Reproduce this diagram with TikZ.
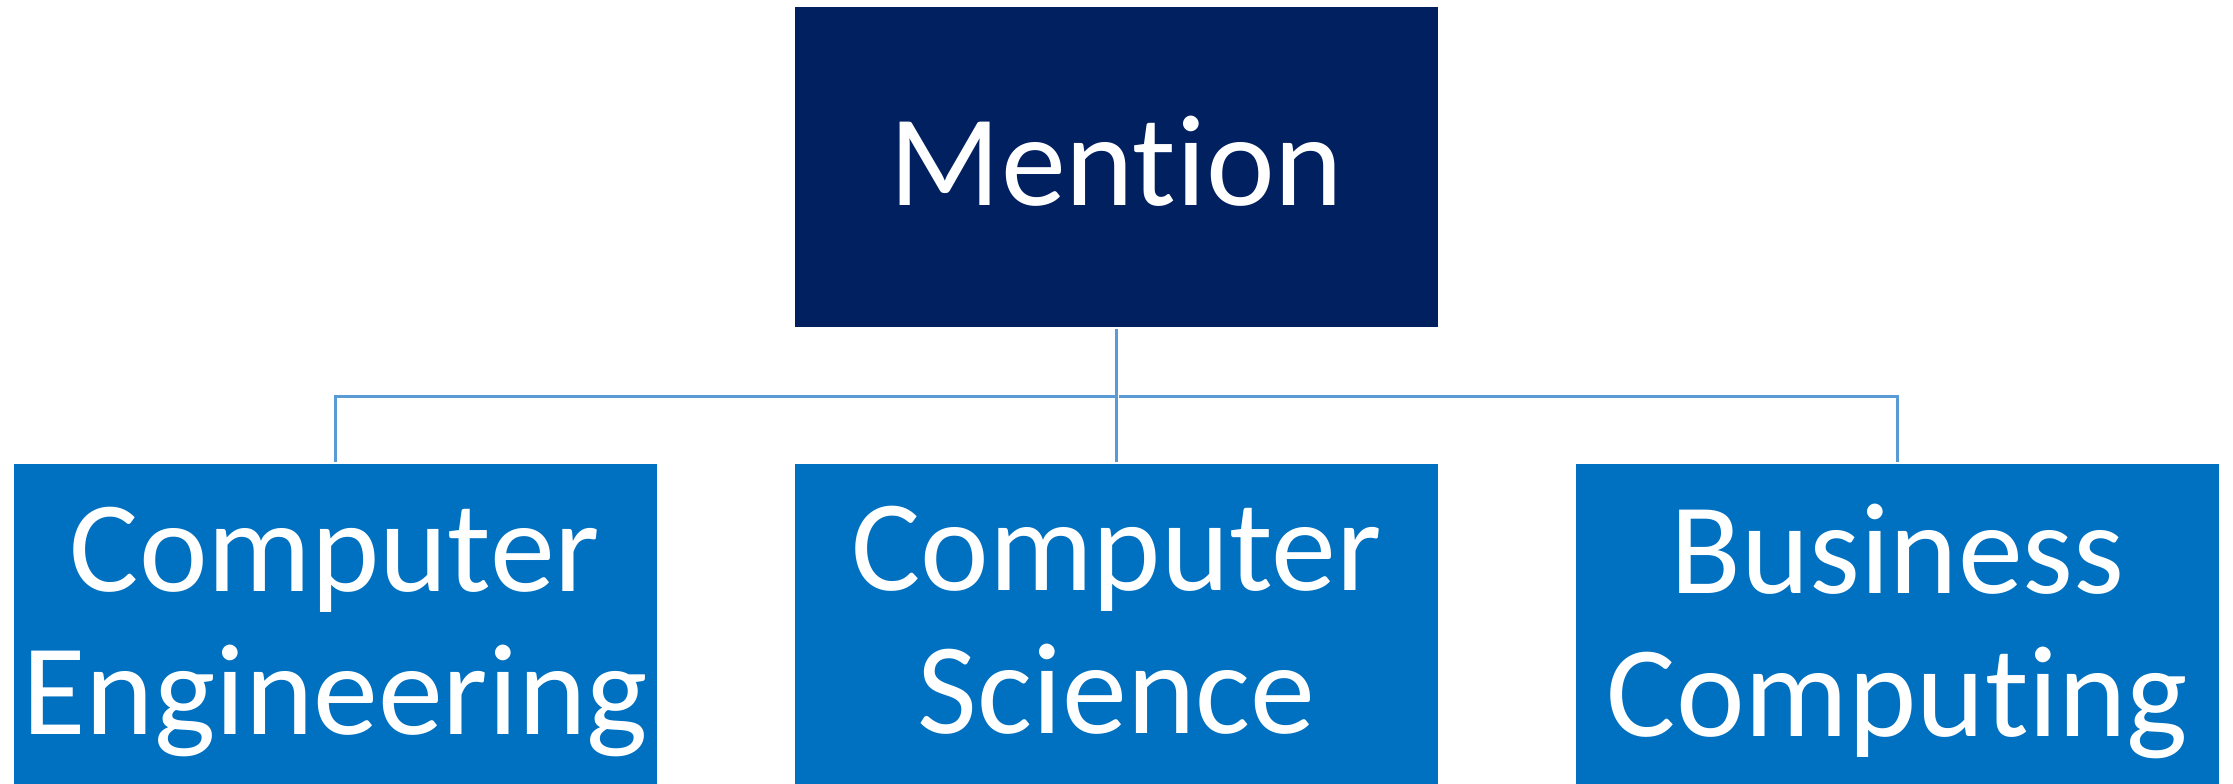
\documentclass[tikz,border=0pt]{standalone}
\usepackage{fontspec}
\setmainfont{Carlito}[Ligatures={NoCommon}]
\usetikzlibrary{calc}
\definecolor{topblue}{RGB}{0,32,96}
\definecolor{leafblue}{RGB}{0,112,192}
\definecolor{linkblue}{RGB}{91,155,213}
\tikzstyle{bigbox}=[rectangle,fill=topblue,minimum width=321.5pt,minimum height=160pt,inner sep=0pt]
\tikzstyle{leafbox}=[bigbox,fill=leafblue]
\tikzstyle{boxtext}=[text=white,align=center,inner sep=0pt,font=\fontsize{65}{71.5}\selectfont]
\tikzstyle{link} = [draw,linkblue,line width=1.5pt,shorten >=1pt,shorten <=1pt]

\begin{document}
\begin{tikzpicture}[x=0.5pt,y=-0.5pt]
    \useasboundingbox (0,0) rectangle (2233,783);

    \node[bigbox] (mention) at (1116.5,167) {};
    \node[boxtext] (mention lbl) at (1116.5,161) {Mention};

    \foreach \pos/ \tpos/ \name/ \label in {{(335,624)/(335,632)/compeng/Computer\\Engineering},
        {(1116.5,624)/(1116.5,620.5)/compsci/Computer\\Science},
        {(1897.5,624)/(1897.5,631.5)/buscomp/Business\\Computing}}
        \node[leafbox] (\name) at \pos {};
    \foreach \pos/ \tpos/ \name/ \label in {{(335,624)/(335,632)/compeng/Computer\\Engineering},
        {(1116.5,624)/(1116.5,620.5)/compsci/Computer\\Science},
        {(1897.5,624)/(1897.5,631.5)/buscomp/Business\\Computing}}
        \node[boxtext] (\name lbl) at \tpos {\label};

    % Connect the top box with the three below
    \coordinate (bus) at (1116.5,396);
    \draw[link] (mention.south) -- (compsci.north);
    \foreach \dest in {compeng,buscomp}
        \draw[link] (\dest.north) -- (\dest.north |- bus) -- (bus);
\end{tikzpicture}
\end{document}
